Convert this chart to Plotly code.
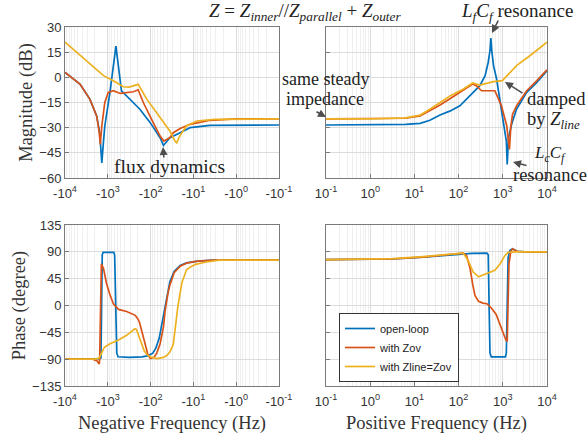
import plotly.graph_objects as go

# ---------------- data ----------------
# Negative-frequency branch (Hz) and magnitude (dB)
neg_f_mag_open = [-10000, -4467, -2630, -1820, -1549, -1445, -1380, -1259, -1175, -891, -646,
                  -479, -363, -251, -178, -102, -60, -50, -42, -35.5, -20.4, -12.0, -4.1, -1, -0.1]
neg_mag_open = [3, -4, -13, -23, -33, -42, -51, -38, -29, -9, 18.6,
                -8, -11, -15, -19, -27, -36, -40.6, -38.5, -36, -33, -30, -28.6, -28.4, -28.4]

neg_f_mag_zov = [-10000, -4467, -2630, -1820, -1585, -1496, -1380, -1175, -977, -741, -513,
                 -363, -251, -195, -148, -87, -60, -49, -35.5, -29.5, -20.4, -12.0, -4.1, -1, -0.1]
neg_mag_zov = [3, -4, -13, -23, -33, -40, -29, -15, -9, -8, -9.6,
               -9, -8.6, -7.4, -15, -27, -35, -38, -36, -33, -30.5, -28, -25.6, -24.8, -24.8]

neg_f_mag_line = [-10000, -4467, -2188, -1259, -741, -437, -316, -195, -123, -60, -35.5,
                  -26.9, -24.5, -20.9, -14.5, -8.3, -3.2, -0.1]
neg_mag_line = [21, 13, 6, 1, -2, -5.6, -5.8, -4.2, -13, -24, -32,
                -38, -39, -35, -29, -26, -25, -24.8]

# Positive-frequency branch (Hz) and magnitude (dB)
pos_f_mag_open = [0.1, 1, 6.3, 13.5, 22.4, 38, 65, 107, 182, 302, 398, 468, 513, 537,
                  562, 617, 724, 933, 1122, 1202, 1259, 1349, 1585, 2042, 3467, 5888, 10000]
pos_mag_open = [-28.4, -28.4, -28.0, -27.4, -25.6, -22.5, -20, -17, -11, -5, 1, 9, 16, 23.4,
                16, 7, -1, -20, -32, -38, -52, -36, -28, -19, -9, -3, 4]

pos_f_mag_zov = [0.1, 1, 6.3, 13.5, 22.4, 38, 65, 129, 209, 251, 331, 661, 933, 1230,
                 1413, 1514, 1660, 2042, 3467, 5888, 10000]
pos_mag_zov = [-24.8, -24.8, -24.4, -23, -20, -16.5, -12.6, -7.6, -4, -5, -8, -8, -17, -29,
               -43, -30, -22, -17, -8, -2, 4.5]

pos_f_mag_line = [0.1, 1, 6.3, 13.5, 22.4, 38, 65, 129, 209, 302, 617, 977, 2042, 4169, 10000]
pos_mag_line = [-24.8, -24.8, -24.2, -22.5, -19, -15, -11, -7, -3.4, -4.6, -2.6, -2, 7, 13, 21]

# Negative-frequency branch phase (degree)
neg_f_ph_open = [-10000, -1995, -1585, -1445, -1396, -1349, -1288, -724, -692, -653, -617,
                 -575, -316, -158, -112, -89, -76, -63, -54, -46, -39, -35.5, -28.2, -20.4,
                 -14.5, -7.9, -3.2, -1, -0.1]
neg_ph_open = [-90, -90, -89, -88, 0, 85, 89, 89, 85, 0, -80,
               -86, -87, -86, -84, -80, -72, -55, -28, 0, 28, 40, 57, 67,
               71.5, 74.5, 76, 76, 76]

neg_f_ph_zov = [-10000, -2239, -1778, -1585, -1549, -1496, -1445, -1413, -1259, -1072, -891,
                -741, -562, -363, -229, -200, -182, -148, -117, -102, -83, -71, -60, -50,
                -46, -39, -35.5, -28.2, -20.4, -14.5, -7.9, -3.2, -1, -0.1]
neg_ph_zov = [-90, -90, -93, -98, -90, 0, 65, 70, 62, 37, 18,
              3, -6.5, -10, -16.5, -22, -28, -53, -81, -89, -87, -79, -64, -36,
              -10, 22, 34, 55, 66, 71, 74.5, 76, 76, 76]

neg_f_ph_line = [-10000, -1995, -1585, -1479, -1380, -1202, -891, -708, -562, -363, -269,
                 -234, -214, -191, -162, -141, -123, -102, -72, -50, -42, -35.5, -29.5, -26.9,
                 -22.9, -18.6, -14.5, -12.0, -8.9, -5.0, -2.5, -0.1]
neg_ph_line = [-90, -90, -88, -83, -77, -70, -64, -61, -58, -50, -43,
               -39, -40, -50, -64, -76, -82, -86, -89, -87, -84, -78, -65, -40,
               0, 38, 60, 64, 69, 73, 76, 76]

# Positive-frequency branch phase (degree)
pos_f_ph_open = [0.1, 1, 3.2, 15.8, 63, 200, 437, 468, 490, 513, 550,
                 1148, 1202, 1259, 1318, 1445, 1660, 2089, 3162, 10000]
pos_ph_open = [77, 77.5, 78, 81, 85, 87.5, 88, 85, 0, -80, -86,
               -86, -80, 0, 80, 92, 95, 91, 90, 90]

pos_f_ph_zov = [0.1, 1, 3.2, 15.8, 63, 126, 151, 182, 209, 234, 282, 355, 437, 562, 708, 871,
                1047, 1175, 1259, 1318, 1380, 1514, 1660, 2089, 3162, 10000]
pos_ph_zov = [77, 77.5, 78, 81, 85, 88, 84, 62, 35, 17, 7, 4, 3, -5, -15, -33,
              -48, -58, -60, 0, 70, 90, 95, 91, 90, 90]

pos_f_ph_line = [0.1, 1, 3.2, 15.8, 63, 126, 158, 214, 282, 398, 661, 871, 1122, 1318, 1995, 10000]
pos_ph_line = [77, 77.5, 78.5, 82, 86, 88, 78, 56, 48, 53, 59, 70, 84, 89, 90, 90]

series_names = ["open-loop", "with Zov", "with Zline=Zov"]
series_colors = ["#0072BD", "#D95319", "#EDB120"]

decade_vals = [1e-1, 1, 10, 100, 1000, 10000]
decade_exps = [-1, 0, 1, 2, 3, 4]
mag_ticks = [-60, -45, -30, -15, 0, 15, 30]
phase_ticks = [-135, -90, -45, 0, 45, 90, 135]

# ---------------- figure ----------------
W, H = 588, 445
fig = go.Figure()

panels = [
    # (freq lists, value lists, xaxis, yaxis, negative branch)
    ([neg_f_mag_open, neg_f_mag_zov, neg_f_mag_line], [neg_mag_open, neg_mag_zov, neg_mag_line], "x", "y", True),
    ([pos_f_mag_open, pos_f_mag_zov, pos_f_mag_line], [pos_mag_open, pos_mag_zov, pos_mag_line], "x2", "y2", False),
    ([neg_f_ph_open, neg_f_ph_zov, neg_f_ph_line], [neg_ph_open, neg_ph_zov, neg_ph_line], "x3", "y3", True),
    ([pos_f_ph_open, pos_f_ph_zov, pos_f_ph_line], [pos_ph_open, pos_ph_zov, pos_ph_line], "x4", "y4", False),
]
for p, (fl, vl, xa, ya, neg) in enumerate(panels):
    for i in range(3):
        xs = [-f for f in fl[i]] if neg else fl[i]
        fig.add_trace(go.Scatter(
            x=xs, y=vl[i], mode="lines", xaxis=xa, yaxis=ya,
            name=series_names[i], showlegend=(p == 3),
            line=dict(color=series_colors[i], width=1.7)))

minor_vals = [k * 10.0 ** d for d in range(-1, 4) for k in range(2, 10)]
tick_font = dict(family="Liberation Sans, Arial, sans-serif", size=13, color="#333333")
frame = dict(showline=True, mirror=True, linecolor="#7a7a7a", linewidth=1,
             showgrid=True, gridcolor="#dcdcdc", gridwidth=1, zeroline=False,
             ticks="inside", ticklen=4, tickcolor="#7a7a7a", tickfont=tick_font,
             automargin=False)

xL = [65 / W, 279 / W]
xR = [326 / W, 547 / W]
yT = [1 - 178 / H, 1 - 27 / H]
yB = [1 - 386 / H, 1 - 225 / H]

def xaxis_cfg(domain, anchor, negative):
    return dict(frame, type="log", domain=domain, anchor=anchor,
                tickvals=decade_vals,
                ticktext=[("-" if negative else "") + "10<sup>%d</sup>" % e for e in decade_exps],
                range=[4, -1] if negative else [-1, 4], ticklabelstandoff=3,
                minor=dict(tickvals=minor_vals, showgrid=True, gridcolor="#efefef", ticks=""))

axis_title_font = dict(family="Liberation Serif, Times New Roman, serif", size=18.5, color="#333333")

fig.update_layout(
    width=W, height=H, margin=dict(l=0, r=0, t=0, b=0),
    paper_bgcolor="white", plot_bgcolor="white",
    xaxis=xaxis_cfg(xL, "y", True),
    xaxis2=xaxis_cfg(xR, "y2", False),
    xaxis3=dict(xaxis_cfg(xL, "y3", True),
                title=dict(text="Negative Frequency (Hz)", font=axis_title_font, standoff=8)),
    xaxis4=dict(xaxis_cfg(xR, "y4", False),
                title=dict(text="Positive Frequency (Hz)", font=axis_title_font, standoff=8)),
    yaxis=dict(frame, domain=yT, anchor="x", range=[-60, 30], tickvals=mag_ticks,
               title=dict(text="Magnitude (dB)", font=axis_title_font, standoff=1)),
    yaxis2=dict(frame, domain=yT, anchor="x2", range=[-60, 30], tickvals=mag_ticks,
                showticklabels=False),
    yaxis3=dict(frame, domain=yB, anchor="x3", range=[-135, 135], tickvals=phase_ticks,
                title=dict(text="Phase (degree)", font=axis_title_font, standoff=1)),
    yaxis4=dict(frame, domain=yB, anchor="x4", range=[-135, 135], tickvals=phase_ticks,
                showticklabels=False),
    legend=dict(x=339 / W, y=1 - 313 / H, xanchor="left", yanchor="top",
                bgcolor="white", bordercolor="#333333", borderwidth=1,
                font=dict(family="Liberation Sans, Arial, sans-serif", size=11, color="#222222"),
                tracegroupgap=0),
)

# ---------------- annotations ----------------
serif = "Liberation Serif, Times New Roman, serif"
def label(x, y, text, size=19, xanchor="center"):
    fig.add_annotation(x=x / W, y=1 - y / H, xref="paper", yref="paper", text=text,
                       showarrow=False, xanchor=xanchor, yanchor="middle", borderpad=0,
                       font=dict(family=serif, size=size, color="#222222"))

def arrow(hx, hy, tx, ty):
    fig.add_annotation(x=hx / W, y=1 - hy / H, xref="paper", yref="paper", text="",
                       showarrow=True, ax=tx - hx, ay=ty - hy, arrowhead=2, arrowsize=1,
                       arrowwidth=1.6, arrowcolor="#4d4d4d")

label(305, 12, "<i>Z</i> = <i>Z<sub>inner</sub></i>//<i>Z<sub>parallel</sub></i> + <i>Z<sub>outer</sub></i>", size=19)
label(517, 12, "<i>L<sub>f</sub>C<sub>f</sub></i> resonance")
label(325, 79, "same steady", size=18)
label(325, 99, "impedance", size=18)
label(526, 99, "damped", xanchor="left", size=18.5)
label(526, 120, "by <i>Z<sub>line</sub></i>", xanchor="left", size=18.5)
label(550, 154, "<i>L<sub>c</sub>C<sub>f</sub></i>", size=17)
label(550, 175, "resonance", size=18.5)
label(169, 166, "flux dynamics", size=19.5)

arrow(492, 33, 499, 19)
arrow(326, 117, 315, 111)
arrow(505, 82, 524, 94)
arrow(513, 162, 528, 166)
arrow(163, 147, 164, 159)

fig.write_html("out.html")
